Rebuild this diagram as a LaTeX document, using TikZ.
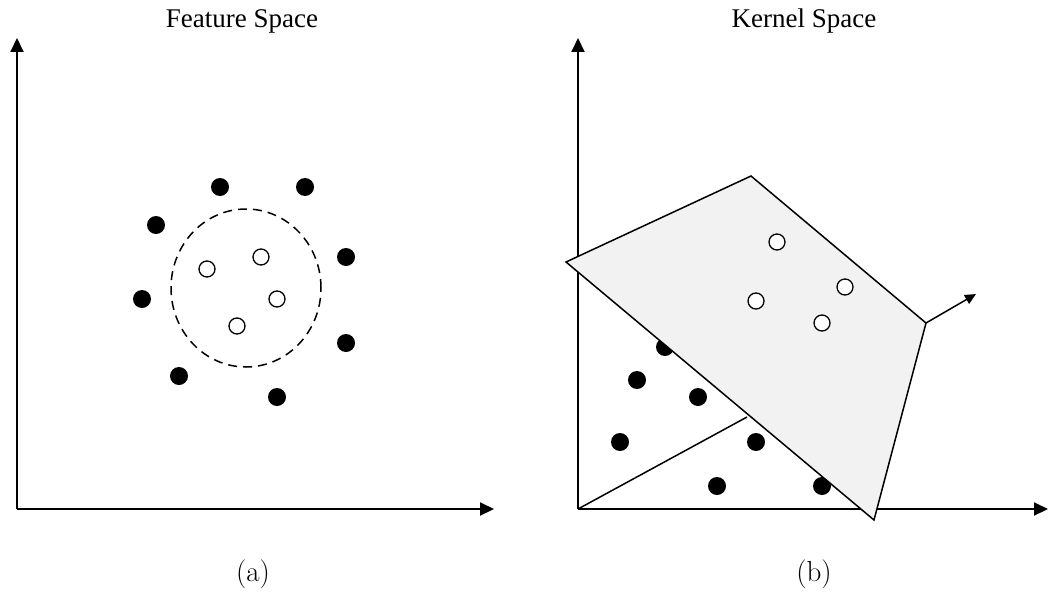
\documentclass[tikz,border=0pt]{standalone}
\usepackage{fontspec}
\newfontfamily\timesfont{Liberation Serif}
\usetikzlibrary{arrows.meta,shapes.geometric}
\definecolor{planegray}{HTML}{F2F2F2}
\tikzset{
  axis/.style={line width=2pt,-{Triangle[length=14pt,width=13pt]}},
  bdot/.style={circle,fill=black,inner sep=0pt,minimum size=18pt},
  wdot/.style={circle,draw=black,fill=white,line width=1.3pt,inner sep=0pt,minimum size=16pt},
  title/.style={font=\timesfont\fontsize{27}{30}\selectfont,anchor=base,inner sep=0pt},
  caption/.style={font=\fontsize{29}{33}\selectfont,anchor=base,inner sep=0pt}
}
\begin{document}
\begin{tikzpicture}[x=1pt,y=-1pt]
\useasboundingbox (0,0) rectangle (1048,594);
% ---------- (a) feature space
\coordinate (oa) at (17,509);
\coordinate (ya) at (17,38);
\coordinate (xa) at (494,509);
\draw[axis] (oa) -- (ya);
\draw[axis] (oa) -- (xa);
\node[title] (ta) at (242,28) {Feature Space};
\node[caption] (ca) at (253,581) {(a)};
\node[draw,dashed,dash pattern=on 9pt off 6pt,line width=1.5pt,ellipse,minimum width=150pt,minimum height=158pt,inner sep=0pt] (ring) at (246,288) {};
\foreach \p [count=\i] in {(220,187),(305,187),(156,225),(346,257),(142,299),(346,343),(179,376),(277,397)}
  \node[bdot] (fa\i) at \p {};
\foreach \p [count=\i] in {(207,269),(261,257),(277,299),(237,326)}
  \node[wdot] (ea\i) at \p {};
% ---------- (b) kernel space
\coordinate (ob) at (578,509);
\coordinate (yb) at (578,38);
\coordinate (xb) at (1048,509);
\coordinate (tri) at (747,417);
\draw[axis] (ob) -- (yb);
\draw[axis] (ob) -- (xb);
\draw[line width=1.5pt] (ob) -- (tri);
\node[title] (tb) at (804,28) {Kernel Space};
\node[caption] (cb) at (814,581) {(b)};
\foreach \p [count=\i] in {(665,347),(637,380),(698,397),(620,442),(756,442),(717,486),(822,486)}
  \node[bdot] (fb\i) at \p {};
\coordinate (p1) at (566,262);
\coordinate (p2) at (751,176);
\coordinate (p3) at (926,323);
\coordinate (p4) at (874,520);
\coordinate (nrm) at (976,294);
\draw[line width=1.5pt,fill=planegray,line join=miter] (p1) -- (p2) -- (p3) -- (p4) -- cycle;
\draw[line width=1.5pt,-{Triangle[length=11pt,width=10pt]}] (p3) -- (nrm);
\foreach \p [count=\i] in {(777,242),(756,301),(845,287),(822,323)}
  \node[wdot] (eb\i) at \p {};
\end{tikzpicture}
\end{document}
